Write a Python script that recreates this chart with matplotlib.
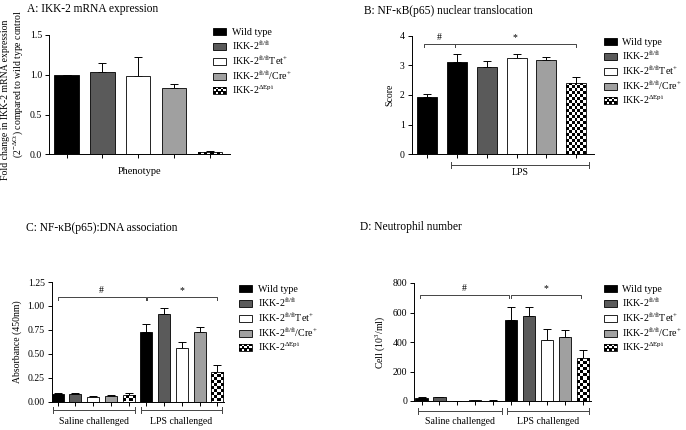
import numpy as np
import matplotlib
matplotlib.use("Agg")
import matplotlib.pyplot as plt
import matplotlib.transforms as mtransforms
from matplotlib.patches import Patch, Rectangle
from matplotlib.legend_handler import HandlerBase

plt.rcParams["font.family"] = ["Liberation Serif", "DejaVu Serif"]
plt.rcParams["mathtext.fontset"] = "custom"
plt.rcParams["mathtext.rm"] = "Liberation Serif"
plt.rcParams["mathtext.it"] = "Liberation Serif:italic"
plt.rcParams["mathtext.bf"] = "Liberation Serif:bold"

# ---------- Data ----------
genotypes = [
    "Wild type",
    r"IKK-2$^{\mathrm{fl/fl}}$",
    r"IKK-2$^{\mathrm{fl/fl}}$Tet$^{+}$",
    r"IKK-2$^{\mathrm{fl/fl}}$/Cre$^{+}$",
    r"IKK-2$^{\Delta\mathrm{Epi}}$",
]

# A: mRNA expression
a_mean = [1.0, 1.035, 0.985, 0.835, 0.035]
a_err = [0.0, 0.11, 0.235, 0.055, 0.006]

# B: nuclear translocation (saline WT, then LPS x5)
b_mean = [1.92, 3.12, 2.93, 3.24, 3.17, 2.40]
b_err = [0.10, 0.25, 0.23, 0.15, 0.12, 0.20]

# C: DNA association
c_saline = [0.078, 0.080, 0.047, 0.057, 0.068]
c_saline_err = [0.010, 0.008, 0.013, 0.007, 0.020]
c_lps = [0.728, 0.916, 0.564, 0.724, 0.310]
c_lps_err = [0.087, 0.059, 0.059, 0.056, 0.073]

# D: neutrophil number
d_saline = [17, 24, 2, 6, 3]
d_saline_err = [7, 5, 1, 2, 1]
d_lps = [549, 574, 414, 432, 289]
d_lps_err = [86, 61, 72, 47, 54]

face = ["black", "#5a5a5a", "white", "#a0a0a0", "checker"]
b_face = ["black", "black", "#5a5a5a", "white", "#a0a0a0", "checker"]

W, H = 686, 430
fig = plt.figure(figsize=(6.86, 4.30), dpi=100)


def add_axes_px(left, right, top, bottom):
    return fig.add_axes([left / W, 1 - bottom / H, (right - left) / W, (bottom - top) / H])


def style(ax, xlim, ylim, yticks, fmt):
    ax.set_xlim(xlim)
    ax.set_ylim(ylim)
    for s in ["top", "right"]:
        ax.spines[s].set_visible(False)
    for s in ["left", "bottom"]:
        ax.spines[s].set_linewidth(0.7)
    ax.set_yticks(yticks)
    ax.set_yticklabels([fmt.format(v) for v in yticks])
    ax.tick_params(direction="out", length=3, width=0.7, labelsize=7, pad=2)
    ax.tick_params(axis="x", labelbottom=False)


def draw_bars(ax, x, means, errs, faces, width):
    for xi, m, e, f in zip(x, means, errs, faces):
        if f == "checker":
            bar = ax.bar(xi, m, width=width, facecolor="none", edgecolor="black",
                         linewidth=0.6, zorder=3)[0]
            p0 = ax.transData.transform((xi - width / 2, 0))
            p1 = ax.transData.transform((xi + width / 2, m))
            nx = max(1, int(round((p1[0] - p0[0]) / 3.0)))
            ny = max(1, int(round((p1[1] - p0[1]) / 3.0)))
            pattern = np.add.outer(np.arange(ny), np.arange(nx)) % 2
            im = ax.imshow(pattern, cmap="gray", vmin=0, vmax=1, origin="lower",
                           extent=(xi - width / 2, xi + width / 2, 0, m),
                           aspect="auto", interpolation="nearest", zorder=2.5)
            im.set_clip_path(bar)
        else:
            ax.bar(xi, m, width=width, color=f, edgecolor="black", linewidth=0.6, zorder=3)
    ax.errorbar(x, means, yerr=[np.zeros(len(errs)), errs], fmt="none",
                ecolor="black", elinewidth=0.7, capsize=3, capthick=0.7, zorder=2)
    ax.set_xticks(x)


def top_bracket(ax, x0, x1, y, drop, label):
    ax.plot([x0, x0, x1, x1], [y - drop, y, y, y - drop], color="#444444", lw=0.7,
            clip_on=False, zorder=4)
    ax.annotate(label, ((x0 + x1) / 2, y), xytext=(0, 1.5), textcoords="offset points",
                ha="center", va="bottom", fontsize=7)


def group_bracket(ax, x0, x1, off_px, label, label_px):
    tr = mtransforms.offset_copy(ax.get_xaxis_transform(), fig=fig, y=-off_px, units="dots")
    ax.plot([x0, x1], [0, 0], color="#444444", lw=0.7, transform=tr, clip_on=False)
    for xe in (x0, x1):
        trv = mtransforms.offset_copy(ax.get_xaxis_transform(), fig=fig, y=-off_px - 3, units="dots")
        ax.plot([xe, xe], [0, 6 / ax.bbox.height], color="#444444", lw=0.7,
                transform=trv, clip_on=False)
    trl = mtransforms.offset_copy(ax.get_xaxis_transform(), fig=fig, y=-label_px, units="dots")
    ax.text((x0 + x1) / 2, 0, label, transform=trl, ha="center", va="center", fontsize=7)


class CheckerHandler(HandlerBase):
    def create_artists(self, legend, orig_handle, xdescent, ydescent, width, height,
                       fontsize, trans):
        arts = [Rectangle((-xdescent, -ydescent), width, height, facecolor="white",
                          edgecolor="black", lw=0.6, transform=trans)]
        nx, ny = 5, 3
        cw, ch = width / nx, height / ny
        for i in range(nx):
            for j in range(ny):
                if (i + j) % 2 == 0:
                    arts.append(Rectangle((-xdescent + i * cw, -ydescent + j * ch), cw, ch,
                                          facecolor="black", lw=0, transform=trans))
        return arts


def add_legend(ax, left_px, top_px):
    handles = [Patch(facecolor=f, edgecolor="black", lw=0.6) for f in face[:4]]
    chk = Patch(facecolor="white", edgecolor="black")
    handles.append(chk)
    ax.legend(handles, genotypes, handler_map={chk: CheckerHandler()},
              loc="upper left", bbox_to_anchor=(left_px / W, 1 - top_px / H),
              bbox_transform=fig.transFigure, frameon=False, fontsize=7.2,
              handlelength=1.3, handleheight=0.65, handletextpad=0.55,
              labelspacing=0.18, borderpad=0, borderaxespad=0)


def title(x_px, y_px, text):
    fig.text(x_px / W, 1 - y_px / H, text, fontsize=8.3, ha="left", va="baseline")


# ---------- A ----------
axA = add_axes_px(49.3, 230, 35, 154.3)
style(axA, (-0.48, 4.56), (0, 1.5), [0, 0.5, 1.0, 1.5], "{:.1f}")
draw_bars(axA, np.arange(5), a_mean, a_err, face, 0.68)
axA.set_xlabel("Phenotype", fontsize=7.5, labelpad=6)
fig.text(5.5 / W, 1 - 100 / H, "Fold change in IKK-2 mRNA expression", fontsize=7,
         rotation=90, ha="center", va="center")
fig.text(18 / W, 1 - 84 / H, r"(2$^{-\Delta\mathrm{Ct}}$) compared to wild type control",
         fontsize=7, rotation=90, ha="center", va="center")
add_legend(axA, 213, 28)
title(27, 12, "A: IKK-2 mRNA expression")

# ---------- B ----------
axB = add_axes_px(411.7, 594, 35.7, 154.3)
style(axB, (-0.53, 5.6), (0, 4), [0, 1, 2, 3, 4], "{:.0f}")
draw_bars(axB, np.arange(6), b_mean, b_err, b_face, 0.67)
axB.set_ylabel("Score", fontsize=7, labelpad=4)
top_bracket(axB, -0.12, 0.92, 3.71, 0.09, "#")
top_bracket(axB, 0.92, 4.98, 3.71, 0.09, "*")
group_bracket(axB, 0.78, 5.43, 10.7, "LPS", 18)
add_legend(axB, 604, 38)
title(364, 14, "B: NF-\u03baB(p65) nuclear translocation")

# ---------- C ----------
axC = add_axes_px(51.7, 224, 282, 401.5)
style(axC, (-0.33, 9.37), (0, 1.25), [0, 0.25, 0.5, 0.75, 1.0, 1.25], "{:.2f}")
draw_bars(axC, np.arange(10), c_saline + c_lps, c_saline_err + c_lps_err, face + face, 0.68)
axC.set_ylabel("Absorbance (450nm)", fontsize=7, labelpad=4)
top_bracket(axC, 0, 4.96, 1.096, 0.035, "#")
top_bracket(axC, 5.03, 8.97, 1.096, 0.035, "*")
group_bracket(axC, -0.25, 4.35, 8.5, "Saline challenged", 20)
group_bracket(axC, 4.68, 9.28, 8.5, "LPS challenged", 20)
add_legend(axC, 239, 285)
title(26, 231, "C: NF-\u03baB(p65):DNA association")

# ---------- D ----------
axD = add_axes_px(414, 591, 283, 401)
style(axD, (-0.42, 9.45), (0, 800), [0, 200, 400, 600, 800], "{:.0f}")
draw_bars(axD, np.arange(10), d_saline + d_lps, d_saline_err + d_lps_err, face + face, 0.68)
axD.set_ylabel(r"Cell (10$^{3}$/ml)", fontsize=7, labelpad=4)
top_bracket(axD, -0.1, 4.9, 719, 23, "#")
top_bracket(axD, 5.0, 8.9, 719, 23, "*")
group_bracket(axD, -0.19, 4.47, 10, "Saline challenged", 20)
group_bracket(axD, 4.75, 9.35, 10, "LPS challenged", 20)
add_legend(axD, 604, 285)
title(360, 230, "D: Neutrophil number")

fig.savefig("out.png", dpi=100)
